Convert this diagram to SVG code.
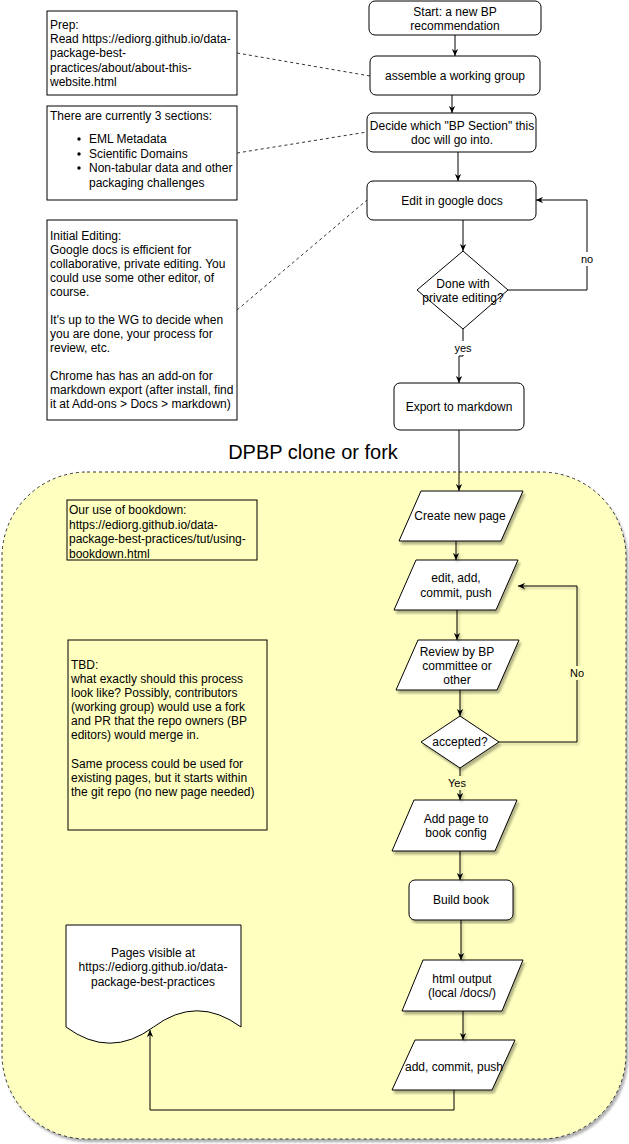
<svg xmlns="http://www.w3.org/2000/svg" width="629" height="1144" viewBox="0 0 629 1144">
<style>
text{font-family:"Liberation Sans",Arial,Helvetica,sans-serif;font-size:12px;fill:#000;dominant-baseline:central}
.c{text-anchor:middle}
.box{fill:#fff;stroke:#000;stroke-width:1}
.note{fill:#fff;stroke:#000;stroke-width:1}
.tnote{fill:none;stroke:#000;stroke-width:1}
.edge{fill:none;stroke:#000;stroke-width:1}
.dash{fill:none;stroke:#333;stroke-width:1;stroke-dasharray:3 3}
.lbl{font-size:11px;text-anchor:middle}
</style>
<defs>
<marker id="arr" viewBox="0 0 10 10" refX="10" refY="5" markerWidth="7" markerHeight="7" orient="auto" markerUnits="userSpaceOnUse">
<path d="M0,0.5 L10,5 L0,9.5 L3,5 z" fill="#000"/>
</marker>
<filter id="sh" x="-5%" y="-5%" width="115%" height="115%">
<feDropShadow dx="2" dy="3" stdDeviation="1.2" flood-color="#000" flood-opacity="0.3"/>
</filter>
<filter id="esh" filterUnits="userSpaceOnUse" x="0" y="400" width="629" height="744">
<feDropShadow dx="1.5" dy="2" stdDeviation="0.8" flood-color="#000" flood-opacity="0.3"/>
</filter>
</defs>

<text x="313" y="452" class="c" style="font-size:20px">DPBP clone or fork</text>

<g id="container">
<rect x="2" y="472" width="624" height="667" rx="85" ry="85" fill="#FFFFC0" stroke="#333" stroke-dasharray="3 3" filter="url(#sh)"/>
</g>

<g id="note-prep">
<rect x="47" y="11" width="190" height="84" class="note"/>
<text x="50" y="25">Prep:</text>
<text x="50" y="39">Read https://ediorg.github.io/data-</text>
<text x="50" y="53">package-best-</text>
<text x="50" y="68">practices/about/about-this-</text>
<text x="50" y="82">website.html</text>
</g>

<g id="note-sections">
<rect x="47" y="106" width="190" height="94" class="note"/>
<text x="50" y="116">There are currently 3 sections:</text>
<circle cx="79" cy="139" r="1.7"/>
<text x="89" y="139">EML Metadata</text>
<circle cx="79" cy="154" r="1.7"/>
<text x="89" y="154">Scientific Domains</text>
<circle cx="79" cy="168" r="1.7"/>
<text x="89" y="168">Non-tabular data and other</text>
<text x="89" y="183">packaging challenges</text>
</g>

<g id="note-editing">
<rect x="47" y="220" width="190" height="200" class="note"/>
<text x="50" y="236">Initial Editing:</text>
<text x="50" y="250">Google docs is efficient for</text>
<text x="50" y="264">collaborative, private editing. You</text>
<text x="50" y="278">could use some other editor, of</text>
<text x="50" y="292">course.</text>
<text x="50" y="320">It's up to the WG to decide when</text>
<text x="50" y="334">you are done, your process for</text>
<text x="50" y="348">review, etc.</text>
<text x="50" y="376">Chrome has has an add-on for</text>
<text x="50" y="390">markdown export (after install, find</text>
<text x="50" y="404">it at Add-ons &gt; Docs &gt; markdown)</text>
</g>

<g id="node-start">
<rect x="369" y="1" width="172" height="34" rx="6" class="box"/>
<text x="455" y="12" class="c">Start: a new BP</text>
<text x="455" y="26" class="c">recommendation</text>
</g>

<g id="node-assemble">
<rect x="370" y="56" width="170" height="39" rx="6" class="box"/>
<text x="455" y="76" class="c">assemble a working group</text>
</g>

<g id="node-decide">
<rect x="367" y="113" width="169" height="39" rx="6" class="box"/>
<text x="452" y="126" class="c">Decide which "BP Section" this</text>
<text x="452" y="140" class="c">doc will go into.</text>
</g>

<g id="node-edit">
<rect x="367" y="181" width="169" height="39" rx="6" class="box"/>
<text x="452" y="201" class="c">Edit in google docs</text>
</g>

<g id="node-done">
<polygon points="463,251 508,290 463,329 417,290" class="box"/>
<text x="463" y="284" class="c">Done with</text>
<text x="463" y="298" class="c">private editing?</text>
</g>

<g id="node-export">
<rect x="394" y="383" width="130" height="47" rx="6" class="box"/>
<text x="459" y="407" class="c">Export to markdown</text>
</g>

<g id="note-bookdown">
<rect x="67" y="500" width="190" height="60" class="tnote"/>
<text x="69" y="510">Our use of bookdown:</text>
<text x="69" y="525">https://ediorg.github.io/data-</text>
<text x="69" y="539">package-best-practices/tut/using-</text>
<text x="69" y="554">bookdown.html</text>
</g>

<g id="note-tbd">
<rect x="68" y="640" width="199" height="190" class="tnote"/>
<text x="71" y="665">TBD:</text>
<text x="71" y="679">what exactly should this process</text>
<text x="71" y="693">look like? Possibly, contributors</text>
<text x="71" y="707">(working group) would use a fork</text>
<text x="71" y="721">and PR that the repo owners (BP</text>
<text x="71" y="735">editors) would merge in.</text>
<text x="71" y="764">Same process could be used for</text>
<text x="71" y="778">existing pages, but it starts within</text>
<text x="71" y="792">the git repo (no new page needed)</text>
</g>

<g id="node-create">
<polygon points="421,491 523,491 501,541 399,541" class="box" filter="url(#sh)"/>
<text x="460" y="516" class="c">Create new page</text>
</g>

<g id="node-editpush">
<polygon points="416,560 518,560 496,610 394,610" class="box" filter="url(#sh)"/>
<text x="456" y="578" class="c">edit, add,</text>
<text x="456" y="593" class="c">commit, push</text>
</g>

<g id="node-review">
<polygon points="418,640 519,640 497,690 396,690" class="box" filter="url(#sh)"/>
<text x="457" y="652" class="c">Review by BP</text>
<text x="457" y="666" class="c">committee or</text>
<text x="457" y="680" class="c">other</text>
</g>

<g id="node-accepted">
<polygon points="460,716 499,742 460,768 421,742" class="box" filter="url(#sh)"/>
<text x="460" y="742" class="c">accepted?</text>
</g>

<g id="node-addpage">
<polygon points="414,800 517,800 495,851 392,851" class="box" filter="url(#sh)"/>
<text x="456" y="819" class="c">Add page to</text>
<text x="456" y="833" class="c">book config</text>
</g>

<g id="node-build">
<rect x="409" y="880" width="104" height="40" rx="6" class="box" filter="url(#sh)"/>
<text x="461" y="900" class="c">Build book</text>
</g>

<g id="node-html">
<polygon points="423,960 523,960 502,1011 402,1011" class="box" filter="url(#sh)"/>
<text x="462" y="979" class="c">html output</text>
<text x="462" y="993" class="c">(local /docs/)</text>
</g>

<g id="node-addcommit">
<polygon points="415,1040 515,1040 492,1090 392,1090" class="box" filter="url(#sh)"/>
<text x="454" y="1067" class="c">add, commit, push</text>
</g>

<g id="node-pages">
<path d="M66,925 H241 V1027 Q197,994.6 153.5,1027 Q110,1059.4 66,1027 Z" class="box"/>
<text x="153" y="953" class="c">Pages visible at</text>
<text x="153" y="967" class="c">https://ediorg.github.io/data-</text>
<text x="153" y="982" class="c">package-best-practices</text>
</g>

<g id="connectors">
<path d="M237,53 L370,76" class="dash"/>
<path d="M237,153 L367,132" class="dash"/>
<path d="M237,310 L367,200" class="dash"/>

<path d="M455,35 V56" class="edge" marker-end="url(#arr)"/>
<path d="M452,95 V113" class="edge" marker-end="url(#arr)"/>
<path d="M458,152 V181" class="edge" marker-end="url(#arr)"/>
<path d="M463,220 V251" class="edge" marker-end="url(#arr)"/>
<path d="M508,290 H587 V200 H536" class="edge" marker-end="url(#arr)"/>
<rect x="578" y="252" width="18" height="14" fill="#fff"/>
<text x="587" y="259" class="lbl">no</text>
<path d="M463,329 V356 H459 V383" class="edge" marker-end="url(#arr)"/>
<rect x="452" y="341" width="22" height="14" fill="#fff"/>
<text x="463" y="348" class="lbl">yes</text>

<path d="M459,430 V491" class="edge" marker-end="url(#arr)"/>
<g filter="url(#esh)">
<path d="M456,541 V560" class="edge" marker-end="url(#arr)"/>
<path d="M457,610 V640" class="edge" marker-end="url(#arr)"/>
<path d="M460,690 V716" class="edge" marker-end="url(#arr)"/>
<path d="M499,742 H577 V586 H518" class="edge" marker-end="url(#arr)"/>
<path d="M460,768 V800" class="edge" marker-end="url(#arr)"/>
<path d="M460,851 V880" class="edge" marker-end="url(#arr)"/>
<path d="M461,920 V960" class="edge" marker-end="url(#arr)"/>
<path d="M463,1011 V1040" class="edge" marker-end="url(#arr)"/>
</g>
<rect x="568" y="666" width="18" height="14" fill="#FFFFC0"/>
<text x="577" y="673" class="lbl">No</text>
<rect x="446" y="776" width="22" height="14" fill="#FFFFC0"/>
<text x="457" y="783" class="lbl">Yes</text>
<path d="M454,1090 V1110 H150 V1030" class="edge" marker-end="url(#arr)"/>
</g>
</svg>
